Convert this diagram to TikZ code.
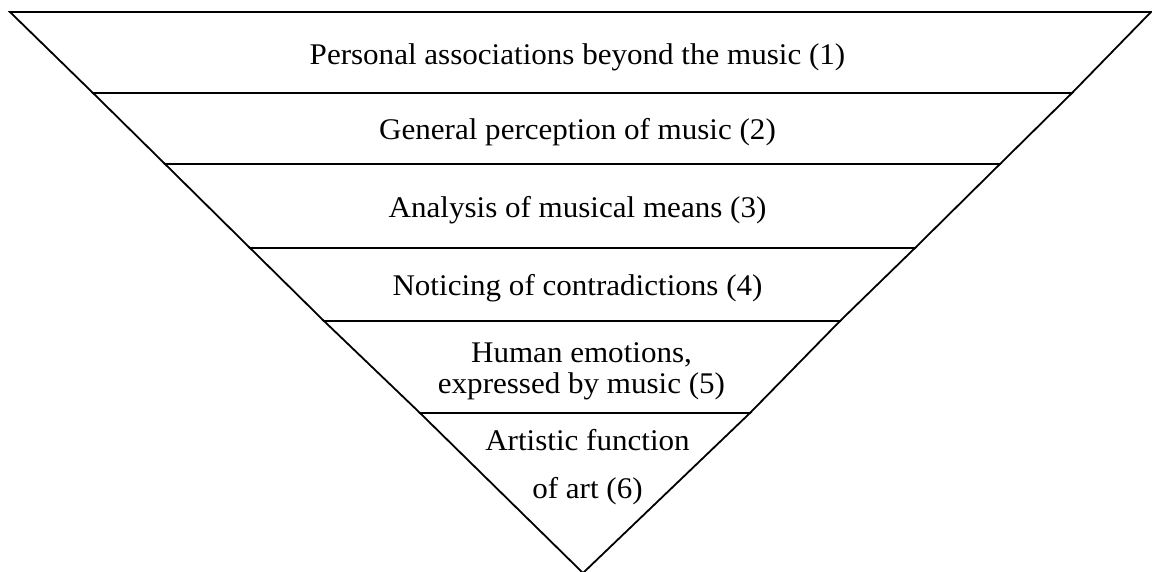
\documentclass[tikz,border=0pt]{standalone}
\usepackage{fontspec}
\usepackage{graphicx}
\setmainfont{Liberation Serif}
\newcommand{\wx}[1]{\scalebox{1.035}[1]{#1}}
\tikzset{
  layer/.style={draw=black, line width=1.8pt, line join=miter},
  lbl/.style={anchor=base, inner sep=0pt, font=\fontsize{30}{34}\selectfont}
}
\begin{document}
\begin{tikzpicture}[x=1pt, y=-1pt]
\useasboundingbox (0,0) rectangle (1152,571);
% layers
\draw[layer] (10,12) -- (1151,12) -- (1072,93) -- (93,93) -- cycle;
\draw[layer] (93,93) -- (1072,93) -- (1000,164) -- (165,164) -- cycle;
\draw[layer] (165,164) -- (1000,164) -- (915,248) -- (250,248) -- cycle;
\draw[layer] (250,248) -- (915,248) -- (840,321) -- (324,321) -- cycle;
\draw[layer] (324,321) -- (840,321) -- (750,413) -- (420,413) -- cycle;
\draw[layer] (420,413) -- (750,413) -- (583,573) -- cycle;
% labels
\node[lbl] (t1) at (577.5,64) {\wx{Personal associations beyond the music (1)}};
\node[lbl] (t2) at (577.5,139) {\wx{General perception of music (2)}};
\node[lbl] (t3) at (577.5,217) {\wx{Analysis of musical means (3)}};
\node[lbl] (t4) at (577.5,295) {\wx{Noticing of contradictions (4)}};
\node[lbl] (t5a) at (581.5,362) {\wx{Human emotions,}};
\node[lbl] (t5b) at (581.5,393) {\wx{expressed by music (5)}};
\node[lbl] (t6a) at (587.5,450) {\wx{Artistic function}};
\node[lbl] (t6b) at (587.5,498) {\wx{of art (6)}};
\end{tikzpicture}
\end{document}
